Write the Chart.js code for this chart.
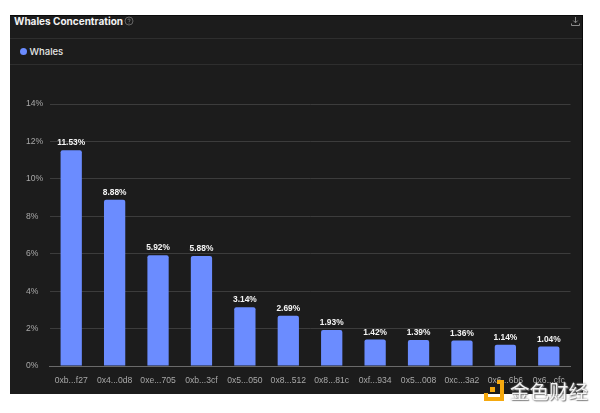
<!DOCTYPE html>
<html>
<head>
<meta charset="utf-8">
<script src="https://cdn.jsdelivr.net/npm/chart.js@4"></script>
<style>
  html, body { margin: 0; padding: 0; background: #fff; }
  body { width: 600px; height: 413px; overflow: hidden; position: relative; font-family: Inter, "Noto Sans", sans-serif; }
  .panel { position: absolute; left: 10px; top: 15px; width: 573px; height: 379px; background: #1c1c1c; border-top: 1px solid #0a0a0a; box-sizing: border-box; border-right: 1px solid #0a0a0a; }
  .rule { position: absolute; left: 10px; width: 572px; height: 1px; background: #2e2e2e; }
  .title { position: absolute; left: 14px; top: 14px; font-size: 10px; font-weight: 700; line-height: 14px; color: #f2f2f2; white-space: nowrap; }
  .legend { position: absolute; left: 29.5px; top: 45px; font-size: 9.5px; font-weight: 500; line-height: 13px; color: #e8e8e8; }
  .dot { position: absolute; left: 20px; top: 48px; width: 7px; height: 7px; border-radius: 50%; background: #6b8cff; }
  .wm { position: absolute; left: 510px; top: 379px; font-family: "Noto Sans CJK SC"; font-size: 19.5px; line-height: 24px; color: rgba(255,255,255,.92); text-shadow: 0 0 2px #777, 1px 1px 1px #888; white-space: nowrap; }
  svg { position: absolute; }
  canvas { position: absolute; left: 0; top: 0; }
</style>
</head>
<body>
<div class="panel"></div>
<div class="rule" style="top:38px"></div>
<div class="rule" style="top:64px"></div>
<div class="title">Whales Concentration</div>
<svg style="left:124px;top:16px" width="10" height="10" viewBox="0 0 10 10" fill="none" stroke="#777" stroke-width="0.8">
  <circle cx="5" cy="5" r="4"/><path d="M3.8 4 C3.8 2.6 6.2 2.6 6.2 4 C6.2 5 5 5 5 6"/><path d="M5 6.8 V7.6"/>
</svg>
<svg style="left:570px;top:16px" width="11" height="11" viewBox="0 0 11 11" fill="none" stroke="#8a8a8a" stroke-width="1">
  <path d="M5.5 1 V6.5 M3.3 4.6 L5.5 6.8 L7.7 4.6"/><path d="M1.5 7.5 V9.5 H9.5 V7.5"/>
</svg>
<div class="dot"></div>
<div class="legend">Whales</div>
<canvas id="Chart" width="600" height="413"></canvas>
<svg style="left:484px;top:380px" width="21" height="22" viewBox="0 0 21 22" fill="#f5a90f">
  <path d="M13 0 H20 V21 H0 V13 H4 V17 H16 V4 H13 Z"/><rect x="6" y="7" width="5" height="5"/>
</svg>
<div class="wm">金色财经</div>
<script>
var categories = ["0xb...f27", "0x4...0d8", "0xe...705", "0xb...3cf", "0x5...050", "0x8...512", "0x8...81c", "0xf...934", "0x5...008", "0xc...3a2", "0x6...6b6", "0x6...cfc"];
var seriesName = "Whales";
var values = [11.53, 8.88, 5.92, 5.88, 3.14, 2.69, 1.93, 1.42, 1.39, 1.36, 1.14, 1.04];
var tickValues = [0, 2, 4, 6, 8, 10, 12, 14];

// 棒の上に値を描く
var valueLabels = {
  id: "valueLabels",
  afterDatasetsDraw: function (chart) {
    var ctx = chart.ctx;
    var bars = chart.getDatasetMeta(0).data;
    ctx.save();
    ctx.font = "700 8.4px 'Liberation Sans', sans-serif";
    ctx.fillStyle = "#f5f5f5";
    ctx.textAlign = "center";
    ctx.textBaseline = "bottom";
    bars.forEach(function (bar, i) {
      ctx.fillText(values[i].toFixed(2) + "%", bar.x, bar.y - 3);
    });
    ctx.restore();
  }
};

var ctx = document.getElementById("Chart").getContext("2d");
var myChart = new Chart(ctx, {
  type: "bar",
  data: {
    labels: categories,
    datasets: [
      {
        label: seriesName,
        data: values,
        backgroundColor: "#6b8cff",
        borderRadius: { topLeft: 2, topRight: 2 },
        borderSkipped: "bottom",
        barPercentage: 0.49,
        categoryPercentage: 1
      }
    ]
  },
  options: {
    responsive: false,
    animation: false,
    layout: { padding: { left: 26, right: 29.5, top: 104, bottom: 0 } },
    plugins: { legend: { display: false }, title: { display: false }, tooltip: { enabled: false } },
    scales: {
      x: {
        afterFit: function (scale) { scale.height = 47; },
        grid: { display: false, drawTicks: false },
        border: { color: "#6a6a6a", width: 1 },
        ticks: { color: "#a8a8a8", font: { size: 8.6, family: "'Liberation Sans', sans-serif" }, maxRotation: 0, minRotation: 0, autoSkip: false, padding: 9 }
      },
      y: {
        min: 0,
        max: 14,
        afterFit: function (scale) { scale.width = 23.5; },
        afterBuildTicks: function (scale) {
          scale.ticks = tickValues.map(function (v) { return { value: v }; });
        },
        grid: { color: "#3c3c3c", lineWidth: 1, drawTicks: false },
        border: { display: false },
        ticks: {
          color: "#a8a8a8",
          font: { size: 8.6, family: "'Liberation Sans', sans-serif" },
          crossAlign: "far",
          padding: 6,
          callback: function (v) { return v + "%"; }
        }
      }
    }
  },
  plugins: [valueLabels]
});
</script>
</body>
</html>
